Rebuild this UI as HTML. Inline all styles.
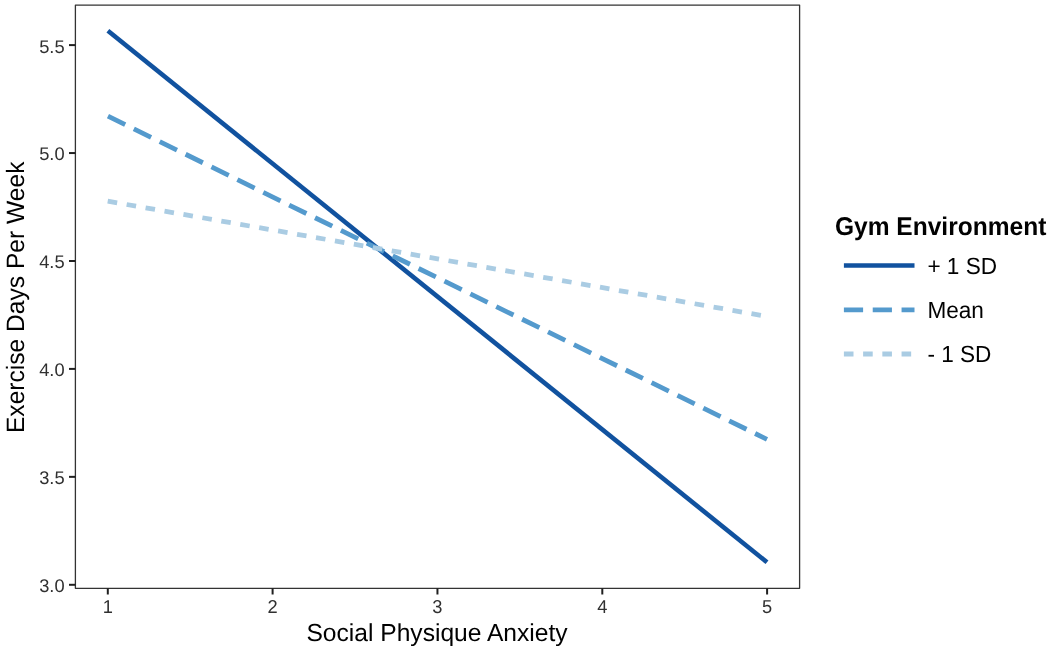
<!DOCTYPE html>
<html>
<head>
<meta charset="utf-8">
<title>Exercise Days Per Week by Social Physique Anxiety</title>
<style>
html,body{margin:0;padding:0;background:#fff;}
body{width:1050px;height:649px;overflow:hidden;}
svg{display:block;will-change:transform;opacity:0.999;}
text{font-family:"Liberation Sans",sans-serif;text-rendering:geometricPrecision;}
.tick{font-size:18.3px;fill:#303030;}
.atitle{font-size:24.6px;fill:#000;}
.ltitle{font-size:24.55px;font-weight:bold;fill:#000;}
.llab{font-size:22.6px;fill:#000;}
</style>
</head>
<body>
<svg width="1050" height="649" viewBox="0 0 1050 649">
<rect x="0" y="0" width="1050" height="649" fill="#ffffff"/>
<!-- panel border -->
<rect x="75.4" y="5.1" width="724.2" height="583.2" fill="none" stroke="#333333" stroke-width="1.3" stroke-linejoin="round"/>
<!-- data lines -->
<line x1="107.9" y1="30.8" x2="767" y2="562.3" stroke="#11529f" stroke-width="4.6"/>
<line x1="107.95" y1="116.2" x2="767" y2="439.3" stroke="#549acd" stroke-width="4.8" stroke-dasharray="19.2 9.63"/>
<line x1="107.7" y1="201.2" x2="767" y2="316.4" stroke="#aacce3" stroke-width="4.8" stroke-dasharray="9.6 9.62"/>
<!-- y ticks -->
<g stroke="#202020" stroke-width="2">
<line x1="69" y1="45.1" x2="75.4" y2="45.1"/>
<line x1="69" y1="153.05" x2="75.4" y2="153.05"/>
<line x1="69" y1="261" x2="75.4" y2="261"/>
<line x1="69" y1="368.9" x2="75.4" y2="368.9"/>
<line x1="69" y1="476.85" x2="75.4" y2="476.85"/>
<line x1="69" y1="584.8" x2="75.4" y2="584.8"/>
</g>
<!-- x ticks -->
<g stroke="#202020" stroke-width="2">
<line x1="107.8" y1="588.3" x2="107.8" y2="594.5"/>
<line x1="272.6" y1="588.3" x2="272.6" y2="594.5"/>
<line x1="437.45" y1="588.3" x2="437.45" y2="594.5"/>
<line x1="602.3" y1="588.3" x2="602.3" y2="594.5"/>
<line x1="767.1" y1="588.3" x2="767.1" y2="594.5"/>
</g>
<!-- y tick labels -->
<g class="tick" text-anchor="end">
<text x="64.6" y="52.5">5.5</text>
<text x="64.6" y="159.8">5.0</text>
<text x="64.6" y="267.8">4.5</text>
<text x="64.6" y="376.0">4.0</text>
<text x="64.6" y="483.7">3.5</text>
<text x="64.6" y="591.8">3.0</text>
</g>
<!-- x tick labels -->
<g class="tick" text-anchor="middle">
<text transform="translate(107.8,612.6) scale(1,1.02)">1</text>
<text transform="translate(272.6,612.6) scale(1,1.02)">2</text>
<text transform="translate(437.45,612.6) scale(1,1.02)">3</text>
<text transform="translate(602.3,612.6) scale(1,1.02)">4</text>
<text transform="translate(767.1,612.6) scale(1,1.02)">5</text>
</g>
<!-- axis titles -->
<text class="atitle" x="437.0" y="640.9" text-anchor="middle">Social Physique Anxiety</text>
<text class="atitle" transform="translate(23.8,297.3) rotate(-90) scale(1,1.02)" text-anchor="middle">Exercise Days Per Week</text>
<!-- legend -->
<text class="ltitle" transform="translate(834.9,234.6) scale(1,1.045)">Gym Environment</text>
<line x1="843.9" y1="265.5" x2="914.5" y2="265.5" stroke="#11529f" stroke-width="4.6"/>
<line x1="843.9" y1="309.8" x2="914.5" y2="309.8" stroke="#549acd" stroke-width="4.8" stroke-dasharray="19.2 9.63"/>
<line x1="843.9" y1="354" x2="914.5" y2="354" stroke="#aacce3" stroke-width="4.8" stroke-dasharray="9.6 9.62"/>
<text class="llab" transform="translate(927.4,274) scale(1,1.035)">+ 1 SD</text>
<text class="llab" transform="translate(927.4,317.8) scale(1,1.035)">Mean</text>
<text class="llab" transform="translate(927.4,362.4) scale(1,1.035)">- 1 SD</text>
</svg>
</body>
</html>
